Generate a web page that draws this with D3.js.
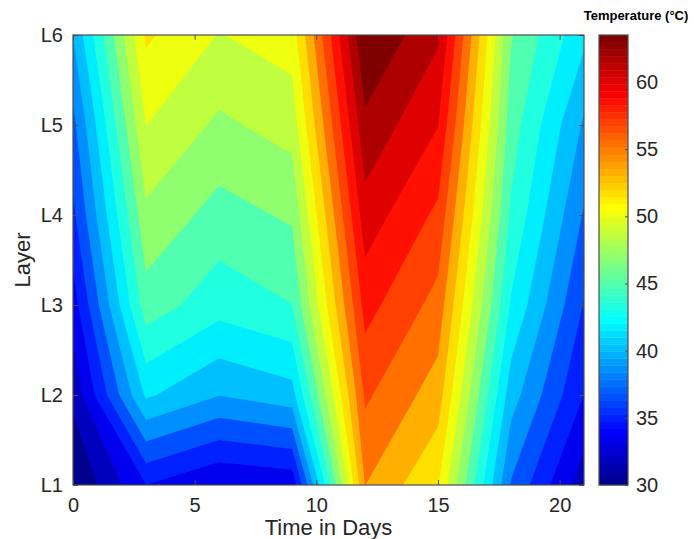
<!DOCTYPE html>
<html>
<head>
<meta charset="utf-8">
<script src="https://cdn.jsdelivr.net/npm/d3@7"></script>
<style>
	body { margin: 0; background: #fff; }
	svg { display: block; font-family: 'Liberation Sans', Arial, Helvetica, sans-serif; }
</style>
</head>
<body>
<div id="chart"></div>
<script>
// ? sampled every 3 days, one row per layer
const days = [0, 3, 6, 9, 12, 15, 18, 21]
const layers = ['L1', 'L2', 'L3', 'L4', 'L5', 'L6']

// temperature (°C), one value per day in `days`
const tL1 = [30.0, 35.0, 33.3, 33.8, 55.15, 51.9, 38.2, 32.3]
const tL2 = [32.1, 42.0, 40.1, 41.05, 57.1, 54.3, 40.8, 35.0]
const tL3 = [34.2, 46.0, 44.08, 45.05, 59.1, 56.2, 43.2, 36.6]
const tL4 = [36.3, 48.03, 46.1, 47.0, 61.1, 58.1, 44.8, 38.2]
const tL5 = [37.9, 50.12, 48.1, 49.1, 63.1, 60.2, 45.9, 39.8]
const tL6 = [40.1, 52.05, 50.03, 50.9, 65.2, 62.1, 46.9, 42.1]

const xTicks = [0, 5, 10, 15, 20]
const cbTicks = [30, 35, 40, 45, 50, 55, 60]
const cbRange = [30, 63.5]
const nLevels = 20

const width = 694
const height = 539
const axisCol = '#4d4d4d'
const textCol = '#262626'

// ? matlab jet(m)
function jet(m) {
	const n = Math.ceil(m / 4)
	const u = [
		...d3.range(1, n + 1).map((i) => i / n),
		...Array(n - 1).fill(1),
		...d3.range(n, 0, -1).map((i) => i / n),
	]
	const g0 = Math.ceil(n / 2) - (m % 4 === 1 ? 1 : 0)
	const cols = d3.range(m).map(() => [0, 0, 0])
	u.forEach((v, j) => {
		const g = g0 + j + 1
		const r = g + n
		const b = g - n
		if (g >= 1 && g <= m) cols[g - 1][1] = v
		if (r >= 1 && r <= m) cols[r - 1][0] = v
		if (b >= 1 && b <= m) cols[b - 1][2] = v
	})
	return cols.map((c) => d3.rgb(c[0] * 255, c[1] * 255, c[2] * 255).formatHex())
}
const cmap = jet(64)
const colour = (v) => {
	const i = Math.floor(((v - cbRange[0]) / (cbRange[1] - cbRange[0])) * cmap.length)
	return cmap[Math.max(0, Math.min(cmap.length - 1, i))]
}

const svg = d3
	.select('#chart')
	.append('svg')
	.attr('width', width)
	.attr('height', height)

const x = d3.scaleLinear().domain([0, 21]).range([73, 584])
const y = d3.scaleLinear().domain([1, 6]).range([485, 35])
const cb = d3.scaleLinear().domain(cbRange).range([485, 35])

// ? contour grid, top row first (L6)
const grid = [tL6, tL5, tL4, tL3, tL2, tL1].flat()
const step = (cbRange[1] - cbRange[0]) / nLevels
const levels = d3.range(1, nLevels + 1).map((k) => cbRange[0] + k * step)
const contours = d3
	.contours()
	.size([days.length, layers.length])
	.thresholds(levels)(grid)

// d3 puts sample i at i + 0.5
const gx = d3.scaleLinear().domain([0.5, days.length - 0.5]).range([days[0], days[days.length - 1]])
const gy = d3.scaleLinear().domain([0.5, layers.length - 0.5]).range([layers.length, 1])
const path = d3.geoPath(
	d3.geoTransform({
		point(px, py) {
			this.stream.point(x(gx(px)), y(gy(py)))
		},
	}),
)

svg
	.append('clipPath')
	.attr('id', 'plot-clip')
	.append('rect')
	.attr('x', x(0))
	.attr('y', y(6))
	.attr('width', x(21) - x(0))
	.attr('height', y(1) - y(6))

const plot = svg.append('g').attr('clip-path', 'url(#plot-clip)')
plot
	.append('rect')
	.attr('x', x(0))
	.attr('y', y(6))
	.attr('width', x(21) - x(0))
	.attr('height', y(1) - y(6))
	.attr('fill', colour(cbRange[0]))

plot
	.selectAll('path')
	.data(contours)
	.join('path')
	.attr('d', path)
	.attr('fill', (d) => colour(d.value))

// ? axes, ticks pointing inwards like matlab
function styleAxis(g, size) {
	g.selectAll('.domain').remove()
	g.selectAll('line').attr('stroke', axisCol)
	g.selectAll('text')
		.attr('fill', textCol)
		.attr('font-size', size)
	g.attr('font-family', null)
}

svg
	.append('g')
	.attr('transform', `translate(0,${y(1)})`)
	.call(d3.axisBottom(x).tickValues(xTicks).tickSize(-5).tickPadding(13))
	.call(styleAxis, 20)
svg
	.append('g')
	.attr('transform', `translate(0,${y(6)})`)
	.call(d3.axisTop(x).tickValues(xTicks).tickSize(-5).tickFormat(''))
	.call(styleAxis, 20)
svg
	.append('g')
	.attr('transform', `translate(${x(0)},0)`)
	.call(
		d3
			.axisLeft(y)
			.tickValues(d3.range(1, layers.length + 1))
			.tickFormat((i) => layers[i - 1])
			.tickSize(-5)
			.tickPadding(10),
	)
	.call(styleAxis, 20)
svg
	.append('g')
	.attr('transform', `translate(${x(21)},0)`)
	.call(
		d3
			.axisRight(y)
			.tickValues(d3.range(1, layers.length + 1))
			.tickSize(-5)
			.tickFormat(''),
	)
	.call(styleAxis, 20)

svg
	.append('rect')
	.attr('x', x(0))
	.attr('y', y(6))
	.attr('width', x(21) - x(0))
	.attr('height', y(1) - y(6))
	.attr('fill', 'none')
	.attr('stroke', axisCol)
	.attr('stroke-width', 1.2)

svg
	.append('text')
	.attr('x', (x(0) + x(21)) / 2)
	.attr('y', 535)
	.attr('text-anchor', 'middle')
	.attr('font-size', 22)
	.attr('fill', textCol)
	.text('Time in Days')

svg
	.append('text')
	.attr('transform', `translate(30,${(y(1) + y(6)) / 2}) rotate(-90)`)
	.attr('text-anchor', 'middle')
	.attr('font-size', 22)
	.attr('fill', textCol)
	.text('Layer')

// ? colorbar
const cbX = 599
const cbW = 29
const cbStep = (cbRange[1] - cbRange[0]) / cmap.length
svg
	.append('g')
	.selectAll('rect')
	.data(cmap)
	.join('rect')
	.attr('x', cbX)
	.attr('width', cbW)
	.attr('y', (c, i) => cb(cbRange[0] + (i + 1) * cbStep))
	.attr('height', (c, i) => cb(cbRange[0] + i * cbStep) - cb(cbRange[0] + (i + 1) * cbStep) + 0.4)
	.attr('fill', (c) => c)

svg
	.append('g')
	.attr('transform', `translate(${cbX + cbW},0)`)
	.call(d3.axisRight(cb).tickValues(cbTicks).tickSize(-3).tickPadding(8))
	.call(styleAxis, 20)

svg
	.append('rect')
	.attr('x', cbX)
	.attr('y', cb(cbRange[1]))
	.attr('width', cbW)
	.attr('height', cb(cbRange[0]) - cb(cbRange[1]))
	.attr('fill', 'none')
	.attr('stroke', axisCol)
	.attr('stroke-width', 1.2)

svg
	.append('text')
	.attr('x', 636)
	.attr('y', 20)
	.attr('text-anchor', 'middle')
	.attr('font-size', 13)
	.attr('font-weight', 'bold')
	.attr('fill', '#000')
	.text('Temperature (°C)')
</script>
</body>
</html>
